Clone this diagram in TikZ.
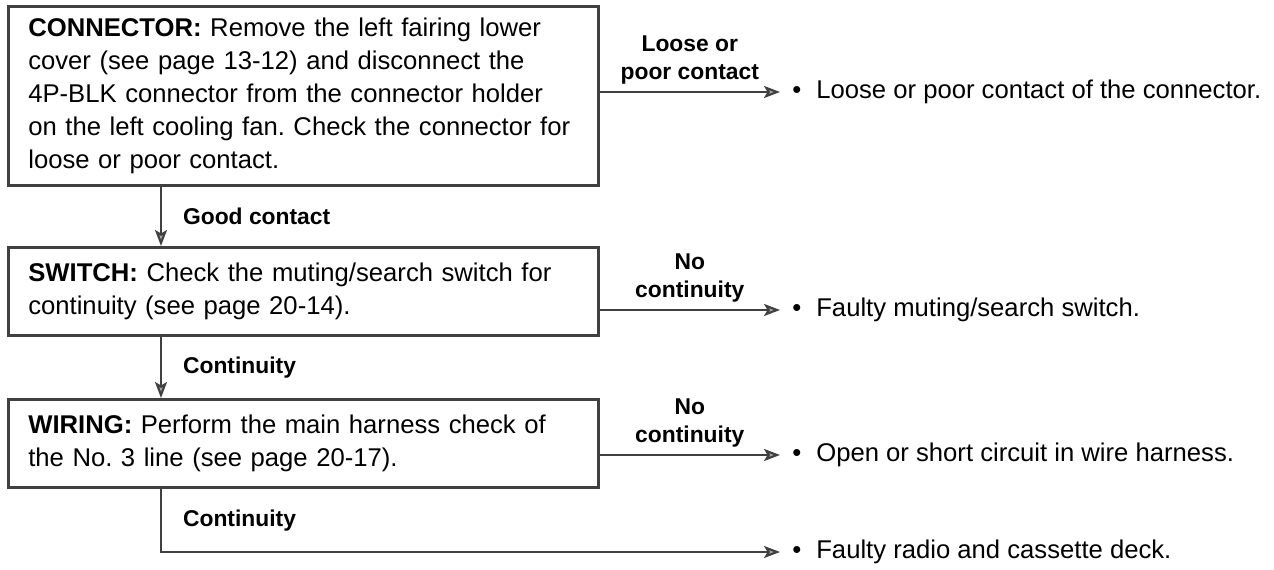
\documentclass[tikz,border=0pt]{standalone}
\usepackage{fontspec}
\setmainfont{Liberation Sans}
\usetikzlibrary{arrows.meta,positioning}
\frenchspacing

\begin{document}
\begin{tikzpicture}[
    x=0.02cm, y=-0.02cm,
    check/.style={draw=black!75, line width=1.5pt, anchor=north west, minimum width=11.8cm, text width=11cm, inner xsep=0.4cm, align=left, font=\fontsize{14.6}{18.8}\selectfont},
    res/.style={anchor=west, inner xsep=0.24cm, font=\fontsize{14.6}{18.8}\selectfont},
    arr/.style={-{Stealth[length=3.2mm, width=2.4mm, inset=0.7mm, fill=black!35]}, draw=black!75, line width=1.2pt},
    lbl/.style={font=\bfseries\fontsize{13}{15.5}\selectfont, align=center, inner sep=2pt}
]
\useasboundingbox (0,0) rectangle (1274,570);
\coordinate (spine) at (161,0);

\node[check, minimum height=3.58cm] (b1) at (7,5) {\textbf{CONNECTOR:} Remove the left fairing lower\\cover (see page 13-12) and disconnect the\\4P-BLK connector from the connector holder\\on the left cooling fan. Check the connector for\\loose or poor contact.};
\node[check, minimum height=1.76cm] (b2) at (7,246) {\textbf{SWITCH:} Check the muting/search switch for\\continuity (see page 20-14).};
\node[check, minimum height=1.76cm] (b3) at (7,398) {\textbf{WIRING:} Perform the main harness check of\\the No. 3 line (see page 20-17).};

\node[res] (r1) at (780,92) {\textbullet\hspace{0.3cm}Loose or poor contact of the connector.};
\node[res] (r2) at (780,310) {\textbullet\hspace{0.3cm}Faulty muting/search switch.};
\node[res] (r3) at (780,455) {\textbullet\hspace{0.3cm}Open or short circuit in wire harness.};
\node[res] (r4) at (780,552) {\textbullet\hspace{0.3cm}Faulty radio and cassette deck.};

\draw[arr] (b1.south -| spine) -- node[lbl, right=0.35cm] {Good contact} (b2.north -| spine);
\draw[arr] (b2.south -| spine) -- node[lbl, right=0.35cm] {Continuity} (b3.north -| spine);
\draw[arr] (b3.south -| spine) |- node[lbl, right=0.35cm, pos=0.25] {Continuity} (r4.west);

\draw[arr] (r1.west -| b1.east) -- node[lbl, above=2pt] {Loose or\\poor contact} (r1.west);
\draw[arr] (r2.west -| b2.east) -- node[lbl, above=2pt] {No\\continuity} (r2.west);
\draw[arr] (r3.west -| b3.east) -- node[lbl, above=2pt] {No\\continuity} (r3.west);
\end{tikzpicture}
\end{document}
